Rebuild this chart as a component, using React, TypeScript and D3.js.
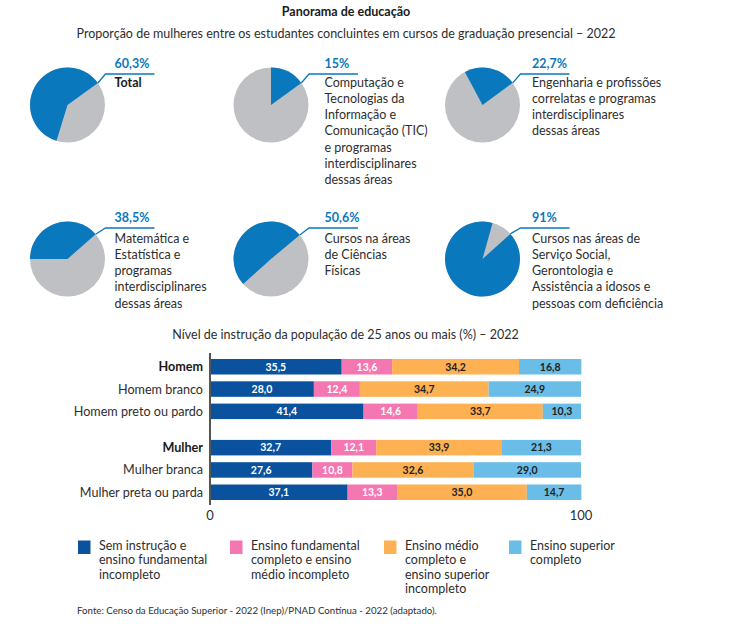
import React from "react";
import * as d3 from "d3";

// ---------- DATA ----------
const pieShares = [60.3, 15, 22.7, 38.5, 50.6, 91];
const pieStartDeg = [-163, 0, -28, -90, -132, 48];
const pieLabels: string[][] = [
  ["Total"],
  ["Computação e", "Tecnologias da", "Informação e", "Comunicação (TIC)", "e programas", "interdisciplinares", "dessas áreas"],
  ["Engenharia e profissões", "correlatas e programas", "interdisciplinares", "dessas áreas"],
  ["Matemática e", "Estatística e", "programas", "interdisciplinares", "dessas áreas"],
  ["Cursos na áreas", "de Ciências", "Físicas"],
  ["Cursos nas áreas de", "Serviço Social,", "Gerontologia e", "Assistência a idosos e", "pessoas com deficiência"],
];

const barCategories = ["Homem", "Homem branco", "Homem preto ou pardo", "Mulher", "Mulher branca", "Mulher preta ou parda"];
const semInstrucao = [35.5, 28.0, 41.4, 32.7, 27.6, 37.1];
const fundamental = [13.6, 12.4, 14.6, 12.1, 10.8, 13.3];
const medio = [34.2, 34.7, 33.7, 33.9, 32.6, 35.0];
const superior = [16.8, 24.9, 10.3, 21.3, 29.0, 14.7];
const headerCategories = ["Homem", "Mulher"];

const seriesLabels: string[][] = [
  ["Sem instrução e", "ensino fundamental", "incompleto"],
  ["Ensino fundamental", "completo e ensino", "médio incompleto"],
  ["Ensino médio", "completo e", "ensino superior", "incompleto"],
  ["Ensino superior", "completo"],
];
const xTicks = [0, 100];

const title = "Panorama de educação";
const pieTitle = "Proporção de mulheres entre os estudantes concluintes em cursos de graduação presencial – 2022";
const barTitle = "Nível de instrução da população de 25 anos ou mais (%) – 2022";
const source = "Fonte: Censo da Educação Superior - 2022 (Inep)/PNAD Contínua - 2022 (adaptado).";

// ---------- STYLE ----------
const FONT = "Lato, 'Open Sans', sans-serif";
const PIE_BLUE = "#0a78bd";
const PIE_GRAY = "#bfc0c3";
const SERIES_COLORS = ["#0a529e", "#f577b1", "#feb152", "#6abde6"];
const SERIES_TEXT = ["#ffffff", "#ffffff", "#222222", "#222222"];
const TEXT = "#2e2e2e";

const W = 756, H = 627;

const locale = d3.formatLocale({ decimal: ",", thousands: ".", grouping: [3], currency: ["R$", ""] });
const fmt1 = locale.format(".1f");
const fmtPct = (v: number) => (Number.isInteger(v) ? locale.format("d")(v) : locale.format(".1f")(v)) + "%";

export default function App() {
  // pies layout
  const colCx = [67.5, 271, 482.5];
  const colTextDx = [47, 53.5, 49.5];
  const rowCy = [105, 259];
  const rowDescDy = [-18.5, -16.5];
  const R = 37.5;
  const arc = d3.arc<any>().innerRadius(0).outerRadius(R);
  const rad = (deg: number) => (deg * Math.PI) / 180;

  // bars layout
  const x = d3.scaleLinear().domain([0, 100]).range([210, 581]);
  const groupGap = 14;
  const y = d3.scaleBand<string>().domain(barCategories).range([359, 486]).paddingInner(0.305).paddingOuter(0);
  const yPos = (c: string, i: number) => (y(c) as number) + (i >= 3 ? groupGap : 0);
  const series = [semInstrucao, fundamental, medio, superior];
  const stackData = barCategories.map((c, i) => ({
    cat: c,
    s0: semInstrucao[i],
    s1: fundamental[i],
    s2: medio[i],
    s3: superior[i],
  }));
  const stack = d3.stack<any>().keys(["s0", "s1", "s2", "s3"])(stackData);

  const legendX = [78, 230, 384, 509];

  return (
    <svg width={W} height={H} style={{ position: "absolute", left: 0, top: 0, background: "#fff" }} fontFamily={FONT}>
      <text x={346} y={16} textAnchor="middle" fontSize={12.5} fontWeight="bold" fill="#1a1a1a">{title}</text>
      <text x={346} y={38} textAnchor="middle" fontSize={12.5} fill={TEXT}>{pieTitle}</text>

      {pieShares.map((share, i) => {
        const col = i % 3, row = Math.floor(i / 3);
        const cx = colCx[col], cy = rowCy[row];
        const start = rad(pieStartDeg[i]);
        const end = start + rad(share * 3.6);
        const sDeg = pieStartDeg[i];
        const eDeg = sDeg + share * 3.6;
        const norm = (d: number) => ((d % 360) + 360) % 360;
        const anchorDeg = Math.abs(norm(eDeg) - 50) < Math.abs(norm(sDeg) - 50) ? norm(eDeg) : norm(sDeg);
        const ax = cx + R * Math.sin(rad(anchorDeg));
        const ay = cy - R * Math.cos(rad(anchorDeg));
        const lineY = cy - 31;
        const tx = cx + colTextDx[col];
        return (
          <g key={i}>
            <circle cx={cx} cy={cy} r={R} fill={PIE_GRAY} />
            <path transform={`translate(${cx},${cy})`} d={arc({ startAngle: start, endAngle: end }) as string} fill={PIE_BLUE} />
            <polyline points={`${ax},${ay} ${cx + 38},${lineY} ${cx + 87},${lineY}`} fill="none" stroke={PIE_BLUE} strokeWidth={1.3} />
            <text x={tx} y={cy - 37.3} fontSize={12.5} fontWeight="bold" fill={PIE_BLUE}>{fmtPct(share)}</text>
            {pieLabels[i].map((ln, j) => (
              <text key={j} x={tx} y={cy + rowDescDy[row] + j * 16.3} fontSize={12.5}
                fontWeight={i === 0 ? "bold" : "normal"} fill={i === 0 ? "#1a1a1a" : TEXT}>{ln}</text>
            ))}
          </g>
        );
      })}

      <text x={345.5} y={339} textAnchor="middle" fontSize={12.5} fill={TEXT}>{barTitle}</text>

      {stack.map((layer, k) => (
        <g key={k}>
          {layer.map((d: any, i: number) => {
            const c = barCategories[i];
            const yy = yPos(c, i);
            const x0 = x(d[0]), x1 = x(d[1]);
            return (
              <g key={i}>
                <rect x={x0} y={yy} width={x1 - x0} height={y.bandwidth()} fill={SERIES_COLORS[k]} />
                <text x={(x0 + x1) / 2} y={yy + y.bandwidth() / 2 + 3.8} textAnchor="middle" fontSize={10.5}
                  fontWeight="bold" fill={SERIES_TEXT[k]}>{fmt1(series[k][i])}</text>
              </g>
            );
          })}
        </g>
      ))}

      {barCategories.map((c, i) => (
        <text key={c} x={203} y={yPos(c, i) + y.bandwidth() / 2 + 4.5} textAnchor="end" fontSize={12.6}
          fontWeight={headerCategories.includes(c) ? "bold" : "normal"} fill={headerCategories.includes(c) ? "#1a1a1a" : TEXT}>{c}</text>
      ))}

      <line x1={x(0)} x2={x(0)} y1={353} y2={505} stroke="#555" strokeWidth={2} />
      {xTicks.map((t) => (
        <text key={t} x={x(t)} y={520} textAnchor="middle" fontSize={13} fill={TEXT}>{t}</text>
      ))}

      {seriesLabels.map((lines, k) => (
        <g key={k}>
          <rect x={legendX[k]} y={540.5} width={12.5} height={13.5} fill={SERIES_COLORS[k]} />
          {lines.map((ln, j) => (
            <text key={j} x={legendX[k] + 21} y={549.5 + j * 14.6} fontSize={12.5} fill={TEXT}>{ln}</text>
          ))}
        </g>
      ))}

      <text x={77} y={614} fontSize={9.7} fill={TEXT}>{source}</text>
    </svg>
  );
}
